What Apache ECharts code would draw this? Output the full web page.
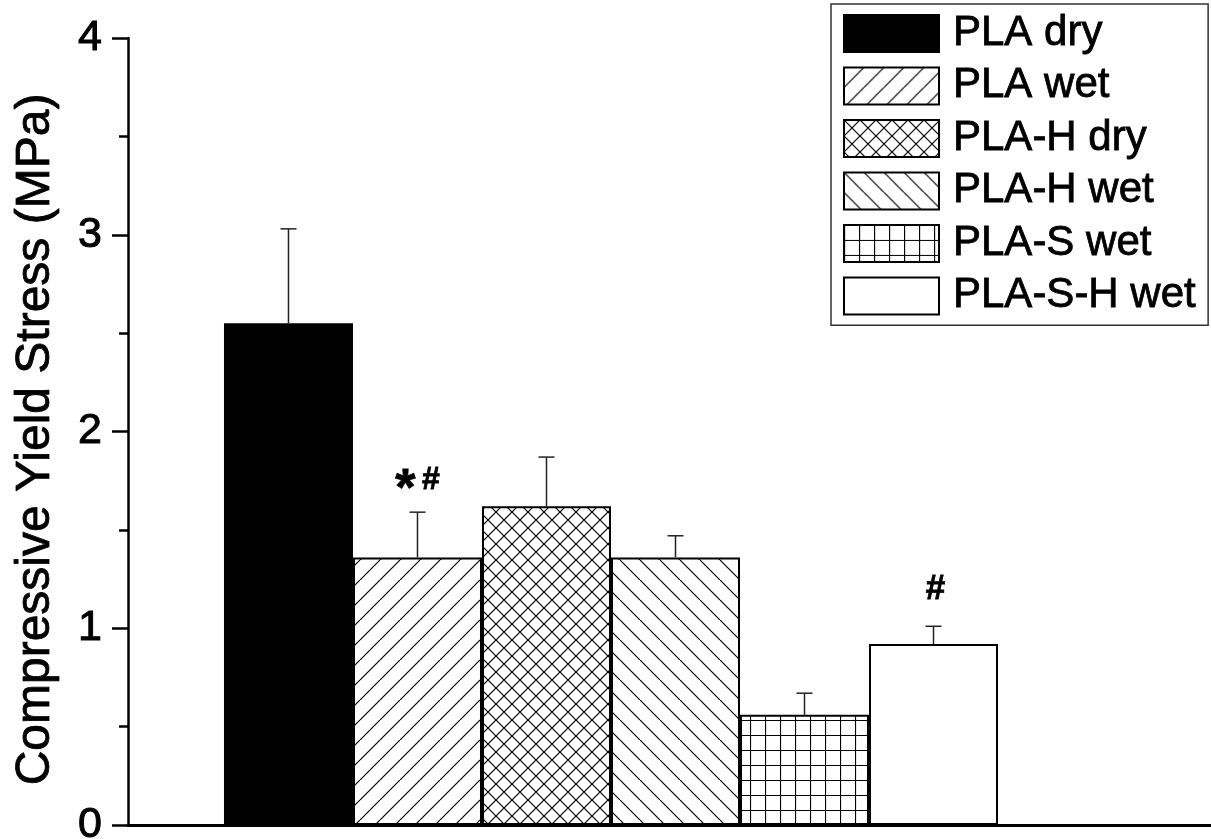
<!DOCTYPE html>
<html>
<head>
<meta charset="utf-8">
<script src="https://cdn.jsdelivr.net/npm/echarts@6/dist/echarts.min.js"></script>
<style>
  html, body { margin: 0; padding: 0; background: #fff; overflow: hidden; }
  #chart { width: 1211px; height: 839px; }
</style>
</head>
<body>
<div id="chart"></div>
<script>
// Compressive yield stress per material / condition (mean and standard deviation)
const groups = ['PLA dry', 'PLA wet', 'PLA-H dry', 'PLA-H wet', 'PLA-S wet', 'PLA-S-H wet'];
const yieldStress = [2.55, 1.36, 1.62, 1.36, 0.56, 0.92];
const stdDev = [0.48, 0.23, 0.25, 0.11, 0.11, 0.09];
const significance = ['', '*#', '', '', '', '#'];
const yTicks = [0, 1, 2, 3, 4];
const fillKinds = ['solid', 'slash', 'cross', 'backslash', 'grid', 'blank'];

const FONT = "'Liberation Sans', Arial, Helvetica, sans-serif";

// Build a repeating hatch tile for bar fills
function hatch(kind) {
  if (kind === 'solid') return '#000';
  if (kind === 'blank') return '#fff';
  const s = (kind === 'slash' || kind === 'backslash') ? 20 : (kind === 'cross' ? 16 : 15);
  const c = document.createElement('canvas');
  c.width = s; c.height = s;
  const g = c.getContext('2d');
  g.fillStyle = '#fff';
  g.fillRect(0, 0, s, s);
  g.strokeStyle = '#000';
  g.lineWidth = 1.2;
  g.beginPath();
  if (kind === 'slash' || kind === 'cross') {
    for (const o of [-s, 0, s]) { g.moveTo(o, s); g.lineTo(o + s, 0); }
  }
  if (kind === 'backslash' || kind === 'cross') {
    for (const o of [-s, 0, s]) { g.moveTo(o, 0); g.lineTo(o + s, s); }
  }
  if (kind === 'grid') {
    g.moveTo(0.5, 0); g.lineTo(0.5, s);
    g.moveTo(0, 0.5); g.lineTo(s, 0.5);
  }
  g.stroke();
  return { image: c, repeat: 'repeat' };
}

const barSeries = groups.map((name, i) => ({
  type: 'bar',
  name: name,
  data: [[i, yieldStress[i]]],
  barWidth: 129,
  barGap: '-100%',
  itemStyle: { color: hatch(fillKinds[i]), borderColor: '#000', borderWidth: 2 },
  emphasis: { disabled: true },
  z: 2
}));

// Upper error bars plus significance markers above them
const glyphWidth = { '*': 20, '#': 17 };
const errorSeries = {
  type: 'custom',
  name: 'error',
  data: groups.map((g, i) => [i, yieldStress[i], yieldStress[i] + stdDev[i]]),
  z: 3,
  renderItem: function (params, api) {
    const i = api.value(0);
    const base = api.coord([i, api.value(1)]);
    const top = api.coord([i, api.value(2)]);
    const cap = 8;
    const st = { stroke: '#222', lineWidth: 1.5 };
    const children = [
      { type: 'line', shape: { x1: base[0], y1: base[1], x2: top[0], y2: top[1] }, style: st },
      { type: 'line', shape: { x1: top[0] - cap, y1: top[1], x2: top[0] + cap, y2: top[1] }, style: st }
    ];
    const mark = significance[i];
    if (mark) {
      const chars = mark.split('');
      const gap = 7;
      const total = chars.reduce((a, ch) => a + glyphWidth[ch], 0) + gap * (chars.length - 1);
      let x = top[0] - total / 2 + (chars.length === 1 ? 2 : 0);
      const yMid = top[1] - (chars.length === 1 ? 37 : 32);
      chars.forEach(ch => {
        const w = glyphWidth[ch];
        const isStar = ch === '*';
        children.push({
          type: 'text',
          x: x + w / 2,
          y: isStar ? yMid + 10 : yMid,
          style: {
            text: ch,
            fontSize: isStar ? 52 : (chars.length === 1 ? 35 : 32),
            fontWeight: 'bold',
            fontFamily: FONT,
            fill: '#000',
            stroke: '#000',
            lineWidth: 0.8,
            align: 'center',
            verticalAlign: 'middle'
          }
        });
        x += w + gap;
      });
    }
    return { type: 'group', children: children };
  }
};

const chart = echarts.init(document.getElementById('chart'), null, { renderer: 'canvas' });
chart.setOption({
  animation: false,
  backgroundColor: '#fff',
  grid: { left: 128, top: 38, width: 1083, height: 787, containLabel: false, outerBoundsMode: 'none' },
  legend: {
    data: groups,
    orient: 'vertical',
    left: 831,
    top: 4,
    padding: [8, 12, 8, 12],
    itemWidth: 95,
    itemHeight: 37,
    itemGap: 9.7,
    icon: 'rect',
    borderColor: '#333',
    borderWidth: 1.5,
    selectedMode: false,
    itemStyle: { borderColor: '#000', borderWidth: 2 },
    textStyle: {
      fontSize: 42, color: '#000', fontFamily: FONT, padding: [0, 0, 0, 9],
      textBorderColor: '#000', textBorderWidth: 0.8
    }
  },
  xAxis: {
    type: 'value',
    min: -1.244,
    max: 7.151,
    axisLine: { show: true, onZero: true, lineStyle: { color: '#000', width: 3 } },
    axisTick: { show: false },
    axisLabel: { show: false },
    splitLine: { show: false }
  },
  yAxis: {
    type: 'value',
    min: yTicks[0],
    max: yTicks[yTicks.length - 1],
    interval: 1,
    name: 'Compressive Yield Stress (MPa)',
    nameLocation: 'middle',
    nameGap: 68,
    nameTextStyle: {
      fontSize: 48, color: '#000', fontFamily: FONT, padding: [0, 16, 0, 0],
      textBorderColor: '#000', textBorderWidth: 0.8
    },
    axisLine: { show: true, onZero: false, lineStyle: { color: '#000', width: 2.5 } },
    axisTick: { show: true, length: 16, lineStyle: { color: '#000', width: 2.5 } },
    minorTick: { show: true, splitNumber: 2, length: 9, lineStyle: { color: '#000', width: 2.5 } },
    axisLabel: {
      fontSize: 43, color: '#000', fontFamily: FONT, margin: 26,
      textBorderColor: '#000', textBorderWidth: 1
    },
    splitLine: { show: false },
    minorSplitLine: { show: false }
  },
  series: barSeries.concat([errorSeries])
});
</script>
</body>
</html>
